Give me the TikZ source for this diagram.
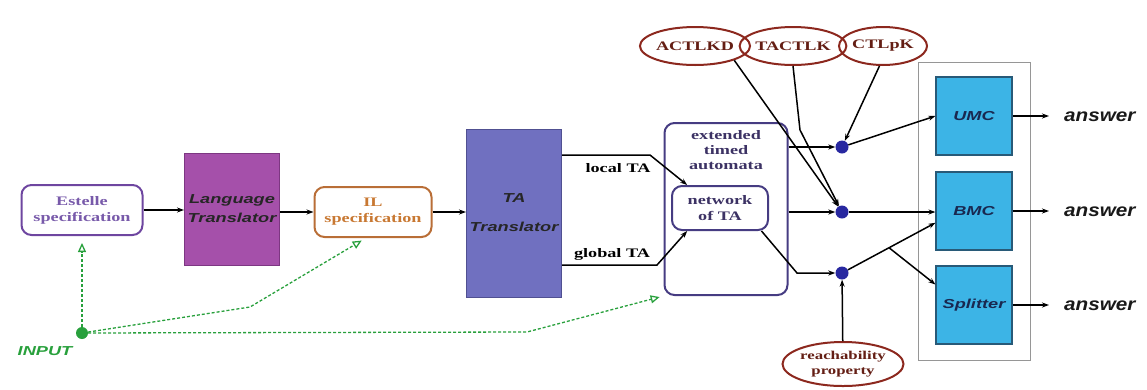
\documentclass[tikz,border=0pt]{standalone}
\usepackage{fontspec}
\setmainfont{Liberation Serif}[FakeStretch=1.4]
\newfontfamily\helvfont{Liberation Sans}[FakeStretch=1.4]
\newfontfamily\answerfont{Liberation Sans}[FakeStretch=1.15]
\usetikzlibrary{shapes.geometric,arrows.meta,positioning}

\definecolor{estellec}{RGB}{110,70,160}
\definecolor{estelletext}{RGB}{120,90,170}
\definecolor{langc}{RGB}{165,80,170}
\definecolor{langline}{RGB}{125,55,130}
\definecolor{ilc}{RGB}{185,110,55}
\definecolor{iltext}{RGB}{200,120,50}
\definecolor{tac}{RGB}{112,112,192}
\definecolor{taline}{RGB}{80,80,145}
\definecolor{extc}{RGB}{70,60,130}
\definecolor{exttext}{RGB}{60,50,100}
\definecolor{logicc}{RGB}{140,40,30}
\definecolor{logictext}{RGB}{100,30,20}
\definecolor{dotc}{RGB}{40,40,160}
\definecolor{mcfill}{RGB}{60,180,230}
\definecolor{mcline}{RGB}{40,90,120}
\definecolor{mctext}{RGB}{25,40,80}
\definecolor{framec}{RGB}{150,150,150}
\definecolor{inc}{RGB}{40,160,60}

\tikzset{
  every node/.style={font=\bfseries\fontsize{13}{16}\selectfont},
  specbox/.style={draw, rounded corners=10pt, line width=2pt, align=center, inner sep=0pt},
  transbox/.style={draw, line width=1pt, align=center, inner sep=0pt, text=black!85,
    font=\helvfont\bfseries\itshape\fontsize{13}{19}\selectfont},
  logic/.style={ellipse, draw=logicc, line width=2pt, text=logictext, inner sep=0pt, align=center},
  junction/.style={circle, fill=dotc, minimum size=13pt, inner sep=0pt},
  mcbox/.style={draw=mcline, fill=mcfill, line width=1.2pt, minimum width=76pt, minimum height=78pt,
    inner sep=0pt, text=mctext, font=\helvfont\bfseries\itshape\fontsize{13}{16}\selectfont},
  answer/.style={anchor=west, inner sep=1pt, text=black!90,
    font=\answerfont\bfseries\itshape\fontsize{18}{20}\selectfont},
  flow/.style={line width=1.5pt, -{Stealth[length=7pt,width=5pt]}},
  inflow/.style={draw=inc, line width=1.3pt, densely dashed, -{Triangle[open,length=9pt,width=8pt]}}
}

\begin{document}
\begin{tikzpicture}[x=1pt,y=-1pt]
    \useasboundingbox (0,0) rectangle (1147,389);

    % Translation chain
    \node[specbox, draw=estellec, text=estelletext, minimum width=121pt, minimum height=50pt] (estelle) at (82,210) {Estelle\\specification};
    \node[transbox, fill=langc, draw=langline, minimum width=95pt, minimum height=112pt] (lang) at (232,209) {Language\\Translator};
    \node[specbox, draw=ilc, text=iltext, minimum width=117pt, minimum height=50pt] (il) at (373,212) {IL\\specification};
    \node[transbox, fill=tac, draw=taline, minimum width=95pt, minimum height=168pt] (ta) at (514,213) {TA\\[10pt]Translator};

    % Automata
    \node[specbox, draw=extc, minimum width=123pt, minimum height=172pt] (ext) at (726,209) {};
    \node[text=exttext, align=center, inner sep=0pt, font=\bfseries\fontsize{13}{15}\selectfont, below=8pt of ext.north] (exttitle) {extended\\timed\\automata};
    \node[specbox, draw=extc, text=exttext, minimum width=96pt, minimum height=44pt] (net) at (720,208) {network\\of TA};

    % Properties
    \node[logic, minimum width=94pt, minimum height=38pt] (actlkd) at (695,46) {ACTLKD};
    \node[logic, minimum width=90pt, minimum height=38pt] (tactlk) at (793,46) {TACTLK};
    \node[logic, minimum width=88pt, minimum height=38pt] (ctlpk) at (883,46) {CTLpK};
    \node[logic, minimum width=114pt, minimum height=44pt, font=\bfseries\fontsize{12}{15}\selectfont] (reach) at (843,364) {reachability\\property};

    \foreach \n/\y in {1/147,2/212,3/273} \node[junction] (dot\n) at (842,\y) {};

    % Model checkers
    \node[draw=framec, line width=1pt, minimum width=112pt, minimum height=298pt, inner sep=0pt] (frame) at (974,211) {};
    \node[mcbox] (umc) at (974,116) {UMC};
    \node[mcbox] (bmc) at (974,211) {BMC};
    \node[mcbox] (split) at (974,305) {Splitter};
    \node[answer] (ans1) at (1063,117) {answer};
    \node[answer] (ans2) at (1063,212) {answer};
    \node[answer] (ans3) at (1063,306) {answer};

    % Input
    \node[circle, fill=inc, minimum size=12pt, inner sep=0pt] (input) at (82,333) {};
    \node[text=inc, inner sep=0pt, font=\helvfont\bfseries\itshape\fontsize{13}{15}\selectfont] (inputlabel) at (45,351) {INPUT};

    % Bend points
    \coordinate (lbend) at (650,155);
    \coordinate (gbend) at (657,265);
    \coordinate (tbend) at (800,130);
    \coordinate (nbend) at (797,273);
    \coordinate (ilbend) at (250,307);
    \coordinate (extbend) at (527,332);

    % Edges
    \draw[flow] (estelle.east) -- (estelle.east -| lang.west);
    \draw[flow] (il.west -| lang.east) -- (il.west);
    \draw[flow] (il.east) -- (il.east -| ta.west);
    \draw[flow] (lbend -| ta.east) -- (lbend) -- (net.145);
    \draw[flow] (gbend -| ta.east) -- (gbend) -- (net.215);
    \draw[flow] (dot1 -| ext.east) -- (dot1);
    \draw[flow] (dot2 -| ext.east) -- (dot2);
    \draw[flow] (net.-29) -- (nbend) -- (dot3);
    \draw[flow] (actlkd.-20) -- (dot2);
    \draw[flow] (tactlk.south) -- (tbend) -- (dot2);
    \draw[flow] (ctlpk.-100) -- (dot1);
    \draw[flow] (reach) -- (dot3);
    \draw[flow] (dot1) -- (umc.west);
    \draw[flow] (dot2) -- (dot2 -| bmc.west);
    \draw[flow] (dot3) -- coordinate[pos=0.47] (fork) (bmc.197);
    \draw[flow] (fork) -- (split.152);
    \foreach \b/\a in {umc/ans1,bmc/ans2,split/ans3}
        \draw[flow, shorten >=14pt] (\b.east) -- (\b.east -| \a.west);

    % Input edges
    \draw[inflow, shorten >=7pt] (input) -- (estelle.south);
    \draw[inflow, shorten >=5pt] (input) -- (ilbend) -- ([xshift=-7pt]il.south);
    \draw[inflow, shorten >=4pt] (input) -- (extbend) -- (ext.south west);

    % Text
    \node (localta) at (618,168) {local TA};
    \node (globalta) at (612,254) {global TA};
\end{tikzpicture}
\end{document}
